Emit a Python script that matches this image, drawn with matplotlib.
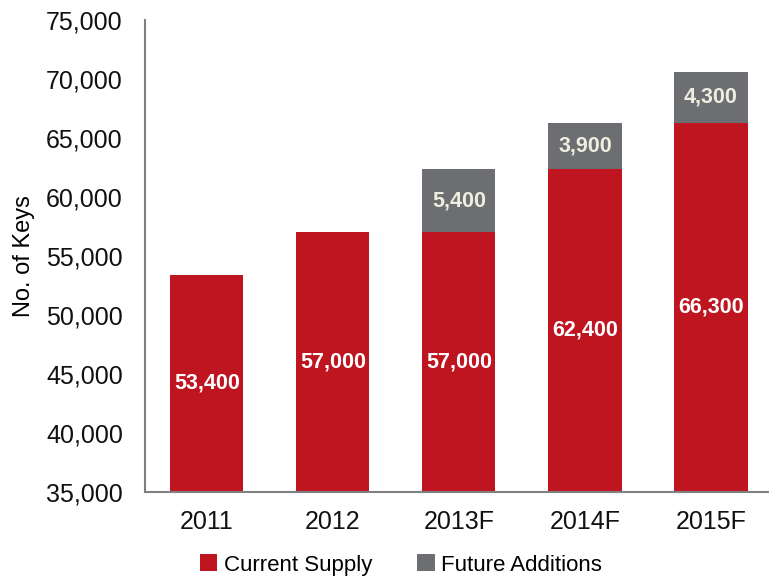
import matplotlib
matplotlib.use('Agg')
import matplotlib.pyplot as plt
from matplotlib.ticker import FuncFormatter

plt.rcParams['font.family'] = ['Liberation Sans Narrow', 'Liberation Sans', 'DejaVu Sans']

years = ['2011', '2012', '2013F', '2014F', '2015F']
current = [53400, 57000, 57000, 62400, 66300]
future = [0, 0, 5400, 3900, 4300]

red = '#BE1520'
grey = '#6D6E71'

fig = plt.figure(figsize=(7.69, 5.82), dpi=100)
ax = fig.add_axes([145 / 769, 90 / 582, 624 / 769, 472 / 582])

x = range(len(years))
ax.bar(x, current, width=0.58, color=red, label='Current Supply', zorder=2)
ax.bar(x, future, width=0.58, bottom=current, color=grey, label='Future Additions', zorder=2)

base = 35000
for i in x:
    ax.text(i, (base + current[i]) / 2, f'{current[i]:,}', ha='center', va='center',
            color='white', fontsize=15.5, fontweight='bold')
    if future[i]:
        ax.text(i, current[i] + future[i] / 2, f'{future[i]:,}', ha='center', va='center',
                color='#EEEEE0', fontsize=15.5, fontweight='bold')

ax.set_ylim(35000, 75000)
ax.set_xlim(-0.49, 4.46)
ax.set_yticks(range(35000, 75001, 5000))
ax.yaxis.set_major_formatter(FuncFormatter(lambda v, p: f'{int(v):,}'))
ax.set_xticks(list(x))
ax.set_xticklabels(years)
ax.tick_params(axis='both', length=0, labelsize=18, colors='#111111')
ax.tick_params(axis='y', pad=16)
ax.tick_params(axis='x', pad=13)
ax.set_ylabel('No. of Keys', fontsize=17, labelpad=8)

for s in ['top', 'right']:
    ax.spines[s].set_visible(False)
for s in ['left', 'bottom']:
    ax.spines[s].set_color('#808080')
    ax.spines[s].set_linewidth(1.5)

ax.legend(loc='upper center', bbox_to_anchor=(0.41, -0.09), ncol=2, frameon=False,
          fontsize=16, handlelength=0.8, handleheight=0.8, handletextpad=0.3,
          columnspacing=2.0)

fig.savefig('out.png', dpi=100)
